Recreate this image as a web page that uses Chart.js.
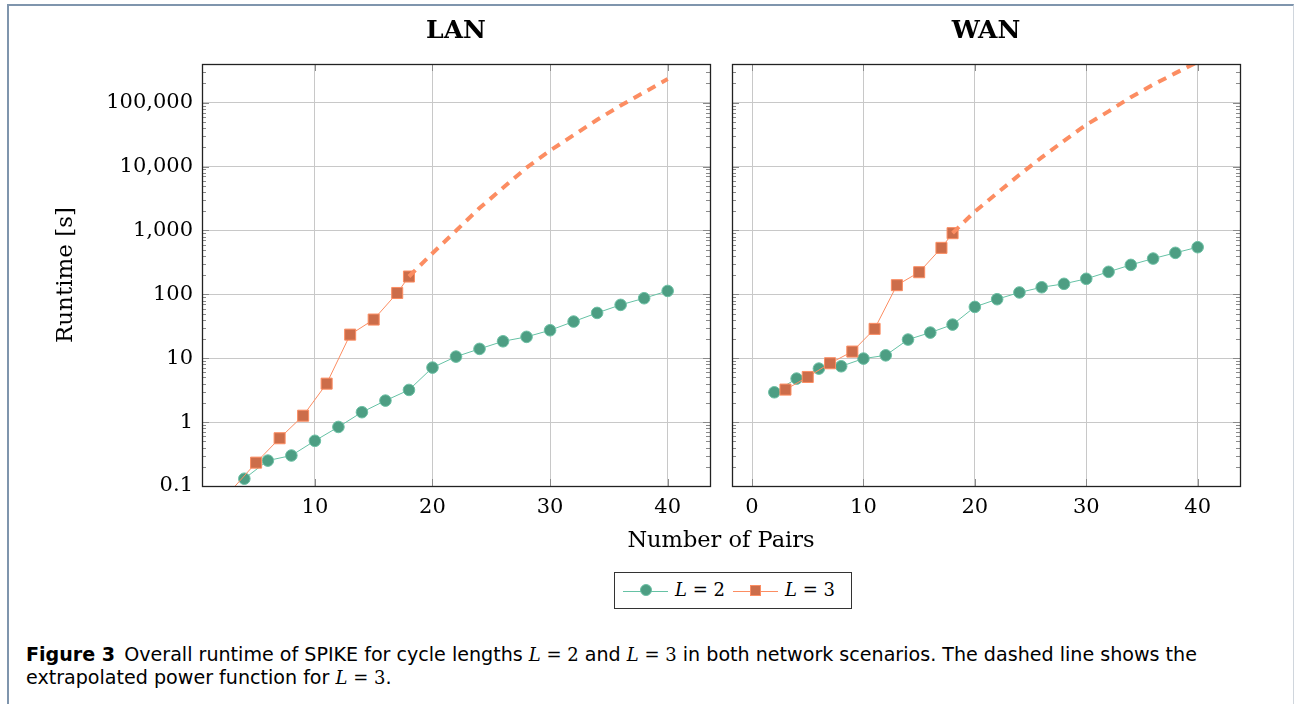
<!DOCTYPE html>
<html>
<head>
<meta charset="utf-8">
<script src="https://cdn.jsdelivr.net/npm/chart.js@4.4.1/dist/chart.umd.min.js"></script>
<style>
    body { margin: 0; background: #fff; width: 1294px; height: 704px; overflow: hidden; position: relative; font-family: "DejaVu Serif", serif; color: #000; }
    #frame { position: absolute; left: 7px; top: 4px; width: 1284px; height: 720px; border-left: 2px solid #7f95ad; border-top: 2px solid #7f95ad; border-right: 1px solid #d0d6dd; }
    canvas { position: absolute; top: 0; }
    .title { position: absolute; top: 17px; width: 508px; text-align: center; font-weight: bold; font-size: 25px; line-height: 25px; }
    #xlabel { position: absolute; left: 521px; width: 400px; top: 528px; text-align: center; font-size: 22.5px; line-height: 22px; }
    #legend { position: absolute; left: 614px; top: 572px; width: 236px; height: 35px; border: 1px solid #333; }
    .seg { position: absolute; top: 18px; width: 45px; height: 1px; }
    .mark { position: absolute; top: 12px; width: 12px; height: 12px; box-sizing: border-box; }
    .ltext { position: absolute; top: 7px; font-size: 18px; line-height: 20px; }
    #caption { position: absolute; left: 26px; top: 643px; font-family: "DejaVu Sans", sans-serif; font-size: 19.1px; line-height: 23px; white-space: nowrap; }
    #caption b { margin-right: 3px; }
    .m { font-family: "DejaVu Serif", serif; font-size: 18px; }
</style>
</head>
<body>
<div id="frame"></div>
<canvas id="lan" width="720" height="530" style="left:0px"></canvas>
<canvas id="wan" width="574" height="530" style="left:720px"></canvas>
<div class="title" style="left:202px">LAN</div>
<div class="title" style="left:732px">WAN</div>
<div id="xlabel">Number of Pairs</div>
<div id="legend">
    <div class="seg" style="left:8px; background:#66c2a5"></div>
    <div class="mark" style="left:25px; top:11px; border-radius:50%; background:#4d9e83; border:1px solid #6cc0a4"></div>
    <div class="ltext" style="left:60px"><i>L</i> = 2</div>
    <div class="seg" style="left:118px; background:#fc8d62"></div>
    <div class="mark" style="left:135px; top:12px; width:11px; height:11px; background:#cc6d4a; border:1px solid #fc8d62"></div>
    <div class="ltext" style="left:170px"><i>L</i> = 3</div>
</div>
<div id="caption"><b>Figure 3</b> Overall runtime of SPIKE for cycle lengths <span class="m"><i>L</i> = 2</span> and <span class="m"><i>L</i> = 3</span> in both network scenarios. The dashed line shows the<br>extrapolated power function for <span class="m"><i>L</i> = 3</span>.</div>
<script>
// LAN
const lan_pairs_l2 = [4, 6, 8, 10, 12, 14, 16, 18, 20, 22, 24, 26, 28, 30, 32, 34, 36, 38, 40];
const lan_l2 = [0.13, 0.25, 0.30, 0.51, 0.84, 1.43, 2.17, 3.19, 7.13, 10.6, 14.0, 18.4, 21.6, 27.4, 37.5, 51.2, 68.4, 86.9, 113];
const lan_pairs_l3 = [3, 5, 7, 9, 11, 13, 15, 17, 18];
const lan_l3 = [0.09, 0.232, 0.559, 1.26, 4.0, 23.4, 40.3, 105, 190];
const lan_fit_pairs = [18, 20, 22, 24, 26, 28, 30, 32, 34, 36, 38, 40];
const lan_fit = [190, 440, 990, 2240, 4650, 9600, 17800, 31000, 54000, 90000, 145000, 234000];

// WAN
const wan_pairs_l2 = [2, 4, 6, 8, 10, 12, 14, 16, 18, 20, 22, 24, 26, 28, 30, 32, 34, 36, 38, 40];
const wan_l2 = [2.93, 4.80, 6.88, 7.48, 9.87, 11.1, 19.6, 25.2, 33.6, 63.6, 83.9, 107, 129, 146, 175, 225, 289, 363, 446, 547];
const wan_pairs_l3 = [3, 5, 7, 9, 11, 13, 15, 17, 18];
const wan_l3 = [3.23, 5.09, 8.34, 12.7, 28.8, 139, 222, 534, 906];
const wan_fit_pairs = [18, 20, 22, 24, 26, 28, 30, 32, 34, 36, 38, 40];
const wan_fit = [906, 1980, 3840, 7430, 13900, 25300, 45100, 73000, 122000, 191000, 290000, 435000];

const y_tick_values = [0.1, 1, 10, 100, 1000, 10000, 100000];
const y_tick_labels = ['0.1', '1', '10', '100', '1,000', '10,000', '100,000'];

const y_min = 0.1;
const y_max = 403000;

const tick_font = { family: 'DejaVu Serif', size: 21 };

function to_points(xs, ys) {
    return xs.map((x, i) => ({ x: x, y: ys[i] }));
}

// pgfplots style: ticks pointing inwards on all four sides, plus the frame
const inner_ticks = {
    id: 'inner_ticks',
    beforeDatasetsDraw(chart) {
        const { ctx, chartArea: a, scales: { x, y } } = chart;
        ctx.save();
        ctx.strokeStyle = '#8a8a8a';
        ctx.lineWidth = 1;
        ctx.beginPath();
        for (let e = -1; e <= 5; e++) {
            for (let m = 1; m < 10; m++) {
                const v = m * Math.pow(10, e);
                if (v > y.max) break;
                const py = Math.round(y.getPixelForValue(v)) + 0.5;
                const len = m === 1 ? 7 : 4;
                ctx.moveTo(a.left, py); ctx.lineTo(a.left + len, py);
                ctx.moveTo(a.right, py); ctx.lineTo(a.right - len, py);
            }
        }
        x.ticks.forEach(t => {
            const px = Math.round(x.getPixelForValue(t.value)) + 0.5;
            ctx.moveTo(px, a.bottom); ctx.lineTo(px, a.bottom - 7);
            ctx.moveTo(px, a.top); ctx.lineTo(px, a.top + 7);
        });
        ctx.stroke();
        ctx.restore();
    },
    afterDraw(chart) {
        const { ctx, chartArea: a } = chart;
        ctx.save();
        ctx.strokeStyle = '#222';
        ctx.lineWidth = 1.3;
        ctx.strokeRect(a.left + 0.5, a.top + 0.5, a.right - a.left, a.bottom - a.top);
        ctx.restore();
    }
};

// markers of points below the axis range are not drawn
function marker_size(size) {
    return ctx => (ctx.raw && ctx.raw.y < y_min) ? 0 : size;
}

function create_panel(element_id, l2, l3, fit, x_min, x_max, padding, y_width, show_y) {
    const config = {
        type: 'line',
        data: {
            datasets: [
                {
                    label: 'fit',
                    data: fit,
                    borderColor: '#fc8d62',
                    borderWidth: 4,
                    borderDash: [9, 7],
                    pointRadius: 0,
                    fill: false,
                    clip: 0,
                    order: 0
                },
                {
                    label: 'L = 3',
                    data: l3,
                    borderColor: '#fc8d62',
                    borderWidth: 1,
                    pointStyle: 'rect',
                    pointRadius: marker_size(7.8),
                    pointBackgroundColor: '#cc6d4a',
                    pointBorderColor: '#fc8d62',
                    pointBorderWidth: 1,
                    fill: false,
                    clip: 0,
                    order: 1
                },
                {
                    label: 'L = 2',
                    data: l2,
                    borderColor: '#66c2a5',
                    borderWidth: 1,
                    pointStyle: 'circle',
                    pointRadius: marker_size(5.8),
                    pointBackgroundColor: '#4d9e83',
                    pointBorderColor: '#6cc0a4',
                    pointBorderWidth: 1,
                    fill: false,
                    clip: 0,
                    order: 2
                }
            ]
        },
        options: {
            responsive: false,
            animation: false,
            devicePixelRatio: 1,
            layout: { padding: padding },
            plugins: {
                legend: { display: false },
                tooltip: { enabled: false }
            },
            scales: {
                x: {
                    type: 'linear',
                    min: x_min,
                    max: x_max,
                    afterFit: scale => { scale.height = 44; },
                    ticks: {
                        stepSize: 10,
                        includeBounds: false,
                        font: tick_font,
                        color: '#000',
                        padding: 9
                    },
                    grid: { color: '#c8c8c8', drawTicks: false },
                    border: { display: false }
                },
                y: {
                    type: 'logarithmic',
                    min: y_min,
                    max: y_max,
                    afterFit: scale => { scale.width = y_width; },
                    afterBuildTicks: scale => {
                        scale.ticks = y_tick_values.map(v => ({ value: v }));
                    },
                    ticks: {
                        display: show_y,
                        autoSkip: false,
                        font: tick_font,
                        color: '#000',
                        padding: 9,
                        callback: (value, index) => y_tick_labels[index]
                    },
                    title: {
                        display: show_y,
                        text: 'Runtime [s]',
                        font: { family: 'DejaVu Serif', size: 23 },
                        color: '#000',
                        padding: { top: 12, bottom: 0 }
                    },
                    grid: { color: '#c8c8c8', drawTicks: false },
                    border: { display: false }
                }
            }
        },
        plugins: [inner_ticks]
    };

    new Chart(document.getElementById(element_id), config);
}

create_panel('lan',
    to_points(lan_pairs_l2, lan_l2),
    to_points(lan_pairs_l3, lan_l3),
    to_points(lan_fit_pairs, lan_fit),
    0.4, 43.6, { left: 40, right: 10, top: 64, bottom: 0 }, 162, true);

create_panel('wan',
    to_points(wan_pairs_l2, wan_l2),
    to_points(wan_pairs_l3, wan_l3),
    to_points(wan_fit_pairs, wan_fit),
    -1.8, 43.8, { left: 0, right: 54, top: 64, bottom: 0 }, 12, false);
</script>
</body>
</html>
